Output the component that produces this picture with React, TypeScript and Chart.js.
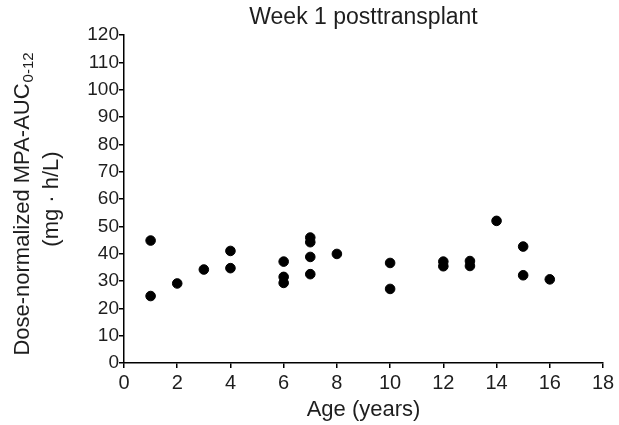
import React, { useEffect, useRef } from 'react';
import { Chart, registerables } from 'chart.js';

Chart.register(...registerables);

const ages = [1, 1, 2, 3, 4, 4, 6, 6, 6, 7, 7, 7, 7, 8, 10, 10, 12, 12, 13, 13, 14, 15, 15, 16];
const auc = [44.8, 24.5, 29.1, 34.2, 41.0, 34.7, 37.1, 31.5, 29.3, 45.9, 44.2, 38.8, 32.5, 39.9, 36.6, 27.1, 37.1, 35.4, 37.3, 35.5, 52.0, 42.6, 32.1, 30.6];
const xTicks = [0, 2, 4, 6, 8, 10, 12, 14, 16, 18];
const yTicks = [0, 10, 20, 30, 40, 50, 60, 70, 80, 90, 100, 110, 120];
const chartTitle = 'Week 1 posttransplant';
const yTitleMain = 'Dose-normalized MPA-AUC';
const yTitleSub = '0-12';
const yTitleUnit = '(mg · h/L)';
const xTitle = 'Age (years)';

const FONT = '"Liberation Sans", Arial, Helvetica, sans-serif';
const TEXT = '#1e1e1e';

const textPlugin = {
  id: 'customText',
  afterDraw(chart: any) {
    const ctx = chart.ctx as CanvasRenderingContext2D;
    const area = chart.chartArea;
    ctx.save();
    ctx.fillStyle = TEXT;
    ctx.textBaseline = 'middle';
    // chart title
    ctx.font = `23px ${FONT}`;
    ctx.textAlign = 'center';
    ctx.fillText(chartTitle, (area.left + area.right) / 2, 18);

    // y title line 1 with subscript
    ctx.save();
    ctx.translate(23, 204);
    ctx.rotate(-Math.PI / 2);
    ctx.font = `22px ${FONT}`;
    const w1 = ctx.measureText(yTitleMain).width;
    ctx.font = `15px ${FONT}`;
    const w2 = ctx.measureText(yTitleSub).width;
    const start = -(w1 + w2 + 1) / 2;
    ctx.textAlign = 'left';
    ctx.font = `22px ${FONT}`;
    ctx.fillText(yTitleMain, start, 0);
    ctx.font = `15px ${FONT}`;
    ctx.fillText(yTitleSub, start + w1 + 1, 6);
    ctx.restore();

    // y title line 2
    ctx.save();
    ctx.translate(52, 199);
    ctx.rotate(-Math.PI / 2);
    ctx.font = `22px ${FONT}`;
    ctx.textAlign = 'center';
    ctx.fillText(yTitleUnit, 0, 0);
    ctx.restore();

    ctx.restore();
  },
};

export default function App() {
  const ref = useRef<HTMLCanvasElement | null>(null);
  useEffect(() => {
    if (!ref.current) return;
    const chart = new Chart(ref.current, {
      type: 'scatter',
      data: {
        datasets: [
          {
            data: ages.map((a, i) => ({ x: a, y: auc[i] })),
            backgroundColor: '#000',
            borderColor: '#000',
            pointRadius: 4.8,
            pointHoverRadius: 4.8,
          },
        ],
      },
      options: {
        animation: false,
        responsive: false,
        maintainAspectRatio: false,
        layout: { padding: { left: 0, right: 16, top: 35, bottom: 0 } },
        plugins: { legend: { display: false }, tooltip: { enabled: false }, title: { display: false } },
        scales: {
          x: {
            type: 'linear',
            min: 0,
            max: 18,
            afterBuildTicks: (s: any) => {
              s.ticks = xTicks.map((v) => ({ value: v }));
            },
            afterFit: (s: any) => {
              s.height = 62;
            },
            grid: { drawOnChartArea: false, drawTicks: true, tickLength: 5, color: '#000', lineWidth: 1.5 },
            border: { display: true, color: '#000', width: 1.5 },
            ticks: { color: TEXT, font: { family: FONT, size: 20 }, padding: 3, maxRotation: 0, autoSkip: false },
            title: { display: true, text: xTitle, color: TEXT, font: { family: FONT, size: 22 }, padding: { top: 0, bottom: 2 } },
          },
          y: {
            type: 'linear',
            min: 0,
            max: 120,
            afterBuildTicks: (s: any) => {
              s.ticks = yTicks.map((v) => ({ value: v }));
            },
            afterFit: (s: any) => {
              s.width = 124;
            },
            grid: { drawOnChartArea: false, drawTicks: true, tickLength: 5, color: '#000', lineWidth: 1.5 },
            border: { display: true, color: '#000', width: 1.5 },
            ticks: { color: TEXT, font: { family: FONT, size: 19 }, padding: 0, autoSkip: false },
          },
        },
      },
      plugins: [textPlugin],
    });
    return () => chart.destroy();
  }, []);
  return (
    <div style={{ position: 'absolute', left: 0, top: 0, width: 619, height: 425 }}>
      <canvas ref={ref} width={619} height={425} style={{ width: 619, height: 425, display: 'block' }} />
    </div>
  );
}
